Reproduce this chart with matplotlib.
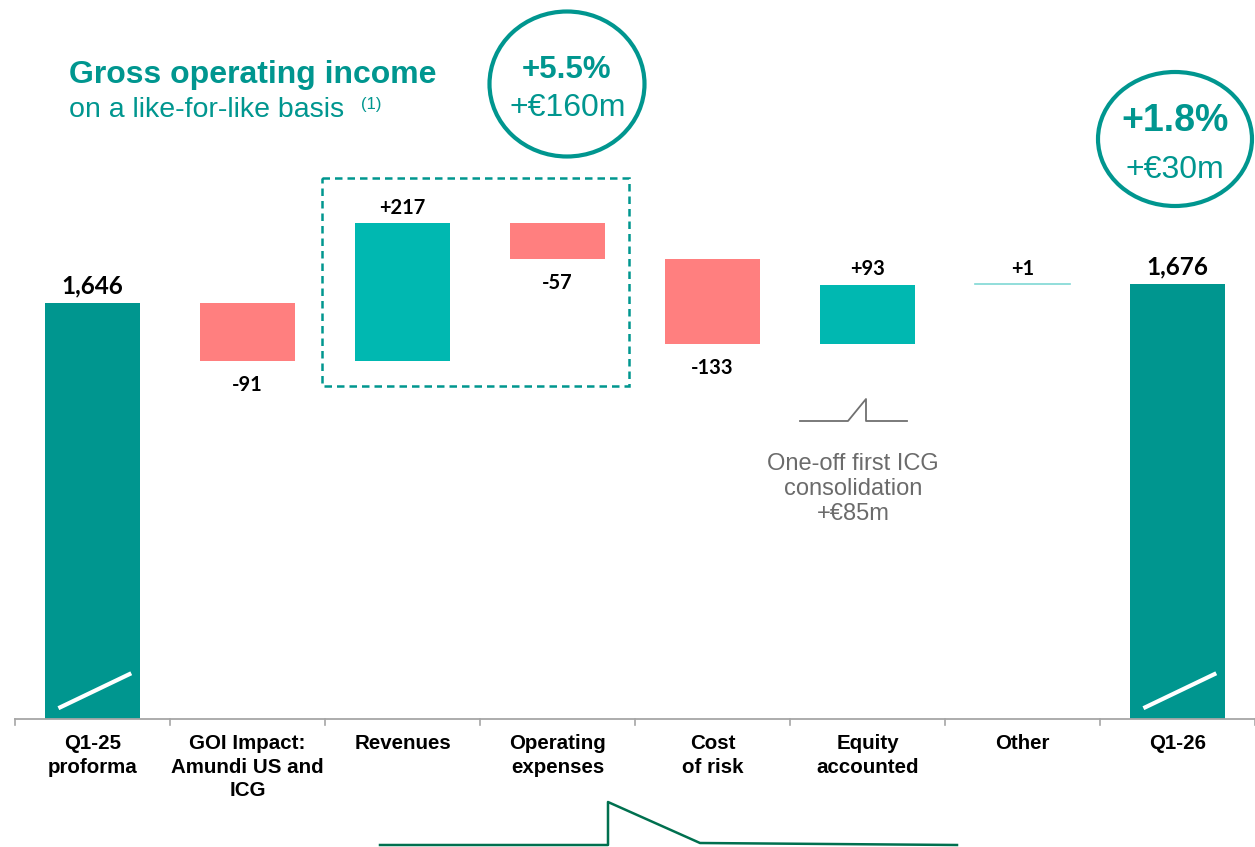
import matplotlib
matplotlib.use("Agg")
import matplotlib.pyplot as plt
from matplotlib.patches import Ellipse, Rectangle

# ---- data ----
categories = ["Q1-25\nproforma", "GOI Impact:\nAmundi US and\nICG", "Revenues",
              "Operating\nexpenses", "Cost\nof risk", "Equity\naccounted", "Other", "Q1-26"]
start_value = 1646
deltas = [-91, 217, -57, -133, 93, 1]
end_value = 1676
value_labels = ["1,646", "-91", "+217", "-57", "-133", "+93", "+1", "1,676"]

TOTAL = "#00968F"
POS = "#00B8B1"
NEG = "#FF7F7F"
TEAL_TXT = "#00968F"

W, H = 1255, 847
fig = plt.figure(figsize=(W / 100, H / 100), dpi=100)

ax = fig.add_axes([15 / W, (H - 719) / H, 1240 / W, 719 / H])
ymin, ymax = 991, 2123
ax.set_xlim(-0.5, len(categories) - 0.5)
ax.set_ylim(ymin, ymax)
for s in ["top", "right", "left"]:
    ax.spines[s].set_visible(False)
ax.spines["bottom"].set_color("#A6A6A6")
ax.spines["bottom"].set_linewidth(1.3)
ax.set_yticks([])
ax.set_xticks([])
bw = 0.607

# boundary ticks
for b in range(len(categories) + 1):
    ax.plot([b - 0.5, b - 0.5], [ymin, ymin - 10], color="#A6A6A6", lw=1.2, clip_on=False)

lblfont = dict(family=["Lato", "DejaVu Sans"], fontweight="bold", color="black")

# totals
ax.bar(0, start_value - ymin, bottom=ymin, width=bw, color=TOTAL, zorder=2)
ax.bar(7, end_value - ymin, bottom=ymin, width=bw, color=TOTAL, zorder=2)
ax.text(0, start_value + 8, value_labels[0], ha="center", va="bottom", fontsize=17.5, **lblfont)
ax.text(7, end_value + 8, value_labels[7], ha="center", va="bottom", fontsize=17.5, **lblfont)

# break marks on totals
for xc in (0, 7):
    ax.plot([xc - 0.22, xc + 0.25], [ymin + 17, ymin + 72], color="white", lw=3, zorder=3,
            solid_capstyle="butt")

cum = start_value
for i, d in enumerate(deltas):
    x = i + 1
    lo, hi = min(cum, cum + d), max(cum, cum + d)
    if abs(d) <= 2:
        ax.plot([x - bw / 2, x + bw / 2], [hi, hi], color="#7FD8D4", lw=1.2, zorder=2)
    else:
        ax.bar(x, hi - lo, bottom=lo, width=bw, color=POS if d > 0 else NEG, zorder=2)
    if d > 0:
        ax.text(x, hi + 8, value_labels[x], ha="center", va="bottom", fontsize=14.5, **lblfont)
    else:
        ax.text(x, lo - 22, value_labels[x], ha="center", va="top", fontsize=14.5, **lblfont)
    cum += d

for i, c in enumerate(categories):
    ax.text(i, ymin - 24, c, ha="center", va="top", fontsize=14.8, fontweight="bold",
            family=["Liberation Sans", "DejaVu Sans"], linespacing=1.3, color="black")

# overlay in pixel coordinates
ov = fig.add_axes([0, 0, 1, 1], facecolor="none")
ov.set_xlim(0, W)
ov.set_ylim(H, 0)
ov.axis("off")

arial = ["Liberation Sans", "DejaVu Sans"]
ov.text(69, 75, "Gross operating income", fontsize=23, fontweight="bold", color=TEAL_TXT,
        family=arial, va="center", ha="left")
ov.text(69, 110, "on a like-for-like basis", fontsize=20.5, color=TEAL_TXT,
        family=arial, va="center", ha="left")
ov.text(361, 104, "(1)", fontsize=12, color=TEAL_TXT, family=arial, va="center", ha="left")

ov.add_patch(Ellipse((567, 84), 155, 145, fill=False, ec=TEAL_TXT, lw=3))
ov.text(567, 70, "+5.5%", fontsize=22.5, fontweight="bold", color=TEAL_TXT, family=arial,
        ha="center", va="center")
ov.text(568, 108, "+€160m", fontsize=23, color=TEAL_TXT, family=arial,
        ha="center", va="center")

ov.add_patch(Ellipse((1175, 139), 154, 134, fill=False, ec=TEAL_TXT, lw=3))
ov.text(1175, 121, "+1.8%", fontsize=27, fontweight="bold", color=TEAL_TXT, family=arial,
        ha="center", va="center")
ov.text(1175, 170, "+€30m", fontsize=23, color=TEAL_TXT, family=arial,
        ha="center", va="center")

ov.add_patch(Rectangle((322, 178), 307, 208, fill=False, ec=TEAL_TXT, lw=1.8, ls=(0, (3, 2))))

# gray annotation
ov.plot([800, 848, 866, 866, 907], [421, 421, 399, 421, 421], color="#707070", lw=1.3)
ov.text(853, 489, "One-off first ICG\nconsolidation\n+€85m", fontsize=17, color="#6B6B6B",
        family=arial, ha="center", va="center", linespacing=1.15)

# green bracket
ov.plot([380, 608, 608, 700, 957], [845, 845, 802, 843, 845], color="#00704F", lw=1.8)

fig.savefig("out.png", dpi=100)
